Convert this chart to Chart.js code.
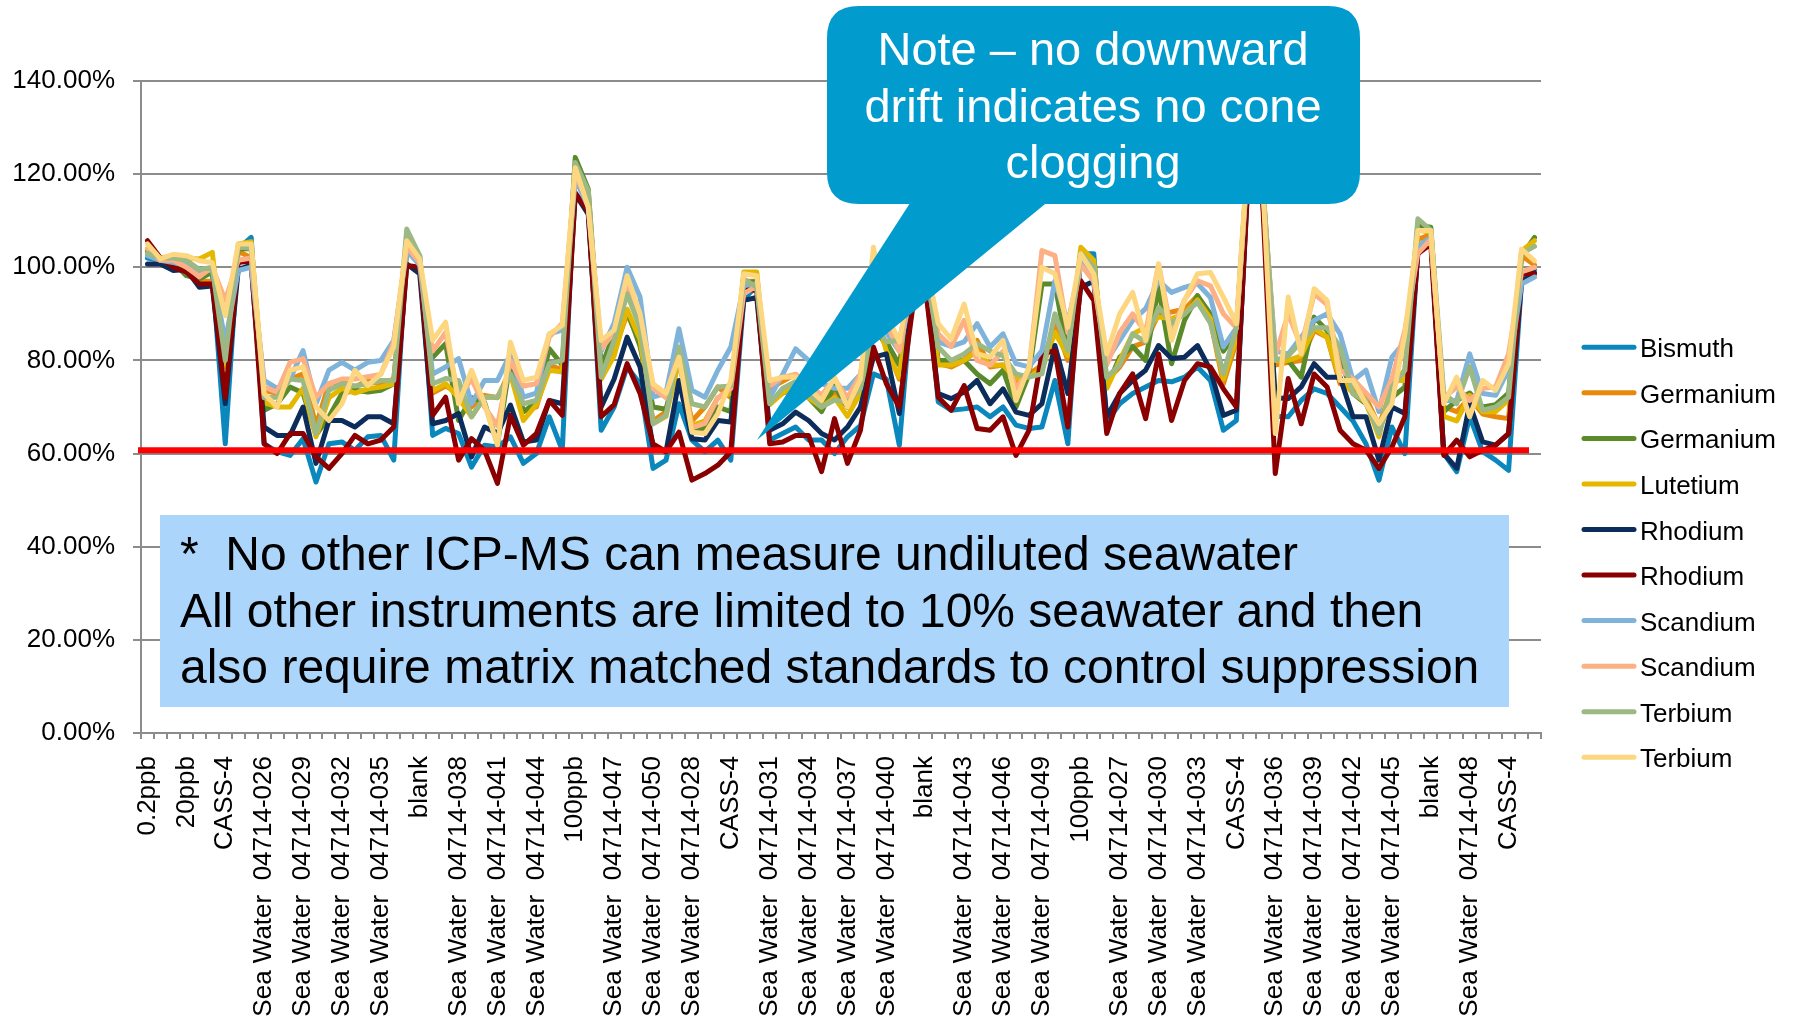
<!DOCTYPE html>
<html>
<head>
<meta charset="utf-8">
<title>Internal standard recovery – undiluted seawater run</title>
<script src="https://cdn.jsdelivr.net/npm/chart.js@4.4.1/dist/chart.umd.min.js"></script>
<style>
  html, body { margin: 0; padding: 0; background: #ffffff; }
  #wrap { position: relative; width: 1795px; height: 1025px; }
  canvas { display: block; }
</style>
</head>
<body>
<div id="wrap"><canvas id="chart" width="1795" height="1025"></canvas></div>
<script>
// ---- run sequence (x categories) ----
const sw = n => 'Sea Water  04714-0' + n;
const categories = [
  '0.2ppb', '1ppb', '5ppb', '20ppb', '50ppb', '100ppb', 'CASS-4', '100ppb', 'blank',
  sw('26'), sw('27'), sw('28'), sw('29'), sw('30'), sw('31'), sw('32'), sw('33'), sw('34'), sw('35'),
  'CASS-4', '100ppb', 'blank',
  sw('36'), sw('37'), sw('38'), sw('39'), sw('40'), sw('41'), sw('42'), sw('43'), sw('44'), sw('45'),
  'CASS-4', '100ppb', 'blank',
  sw('46'), sw('47'), sw('48'), sw('49'), sw('50'),
  sw('26'), sw('27'), sw('28'), sw('29'), sw('30'),
  'CASS-4', '100ppb', 'blank',
  sw('31'), sw('32'), sw('33'), sw('34'), sw('35'), sw('36'), sw('37'), sw('38'), sw('39'), sw('40'),
  'CASS-4', '100ppb', 'blank',
  sw('41'), sw('42'), sw('43'), sw('44'), sw('45'), sw('46'), sw('47'), sw('48'), sw('49'), sw('50'),
  'CASS-4', '100ppb', 'blank',
  sw('26'), sw('27'), sw('28'), sw('29'), sw('30'), sw('31'), sw('32'), sw('33'), sw('34'), sw('35'),
  'CASS-4', '100ppb', 'blank',
  sw('36'), sw('37'), sw('38'), sw('39'), sw('40'), sw('41'), sw('42'), sw('43'), sw('44'), sw('45'),
  'CASS-4', '100ppb', 'blank',
  sw('46'), sw('47'), sw('48'), sw('49'), sw('50'),
  'CASS-4', '100ppb', 'blank'
];

// ---- internal standard recoveries, % ----
const bismuth = [
  102,101.5,100.5,100,98.5,99,62.1,104,106.4,62.1,60.4,59.6,63.2,53.9,62.1,62.5,60.7,63.6,63.9,58.6,
  104,102.5,63.9,65.4,64.3,57.1,61.8,61.4,63.6,57.9,60,67.9,60.7,121,114,65,70,78.6,75,56.8,
  58.6,70.7,62.9,60.4,62.9,58.6,93.2,96,62.9,64.3,65.7,62.9,62.9,60,63.6,66,77.1,76,61.8,95,
  101,71.1,69.3,69.6,70,67.9,70,66.1,65.4,65.7,75.7,62.1,102.9,102.9,66.8,70.7,72.9,74.3,75.7,75.4,
  76.4,78.6,75.7,65,67.1,128,118,68,67.9,71.4,73.9,72.9,70,67,62.1,54.3,65.7,60,104,107,
  60,56.1,68,60.4,58.6,56.4,97,99.5
];
const germanium1 = [
  103,101,101,100,97,97,79,103.5,102,73.5,73,76,77.1,66,75,75.7,74.3,75.7,75,76,
  104,101,73,74.5,73,70,72.5,72,78,69,70,79,78,121.5,115,76,82,90,84,67,
  69,80,67,70,74.3,72,97,97,74,75.5,77,74,71,73,70,75,88,83,76,97,
  100,79.3,78.6,80,84.3,78.6,79,75,77,79,88,80,103,99,75.7,78.6,82.9,84,90,90.4,
  91,93.9,88.6,75,84,127,118,79,79.6,80,86.4,85,75,74,72,66,74,78,106,107,
  70,69,72,68.5,67.9,67.5,102.5,100.5
];
const germanium2 = [
  103.5,102,101,98.2,97.5,99,80,104,104,69.3,70.7,74.3,73,64,67.9,72.9,73.6,73.2,73.6,75,
  106,101,80.7,83.6,67.1,72,71,62,80,69,71,82.5,79,123.6,116.8,78.6,85.7,90.7,83,70,
  69.5,80.5,65,65.5,70,69,96.5,97,71,73,74,72,69,74.5,70,73,86,84,79,97,
  101,80,80,80,77.1,75,77.9,70,77,96.4,96.4,81.4,103,99,74.3,80.7,83,80,95.7,79.3,
  88.6,93.9,90,82,86,127,118,80,80,76.4,89.3,86.4,80,72.9,70.7,65,72,74.3,109,108.6,
  69,71.4,73,70,70.5,73,102.5,106.4
];
const lutetium = [
  104,102,102.5,102,101.8,103.2,78.6,105,105.5,71,70,70,74,63.6,72,74,73,73.9,74.3,75,
  105,102,73.5,75,72,67.9,72.1,72.1,77,67.1,70.5,77.9,77.5,122,116,76,81,91,84.5,66.4,
  68,80,66,67,72,73,99,99,70.5,73,74.5,72,70,72,68,73,92,82,76.4,98,
  102,79,79,80,82,79,79,76,76.5,78,86,81,104.3,101.5,74,80,85.7,87.1,89.3,89,
  90,93,89,76,85,128,119,80,80,81,87,85,76,73,71,63.6,75.7,75.7,108,107.5,
  68,67,72.5,69,69,71.5,103.5,105.7
];
const rhodium1 = [
  100.7,100.7,99.3,99.5,95.7,96,70.7,99.5,100.5,65.7,63.9,63.9,70,57.9,67.1,67.1,65.7,67.9,67.9,66.4,
  100.7,98.6,66.4,67.1,68.6,59.3,65.7,64.3,70.4,62.5,62.9,71.4,70.7,115.7,111.4,70,76,85,78.6,61.4,
  60.4,75.7,63.2,62.9,67.1,66.8,92.9,93.5,65,66.4,68.9,67.1,64.3,62.9,65.7,70,80.7,81.4,68.6,94,
  97,72.9,71.8,73.2,75.7,70.7,73.9,68.9,68.2,70.7,83.2,72.9,95.7,97,67.9,72.9,75.7,77.9,83.2,80.4,
  80.7,83.2,77.9,68.2,69.3,125,116,72,71.8,74.3,79.3,76.4,76.4,67.9,67.9,58.6,70,68.6,103.2,106.4,
  60,56.8,70.7,62.5,61.8,64.3,96.8,98.9
];
const rhodium2 = [
  105.7,102,100,99,96.4,96.4,72.1,101,101.4,62.1,60,64.3,64.3,59.3,56.8,60,63.9,62.1,62.9,65.7,
  100.4,100,68.2,72.1,58.6,63.2,60.7,53.6,68.2,61.8,64.3,71.4,68.2,116,112,67.9,70.5,79.3,72.9,62.1,
  60.4,64.6,54.3,55.7,57.5,60.4,95.4,95,62.1,62.5,63.9,63.9,56.1,67.5,57.9,65,82.9,75,70,90.7,
  96,72.1,69.3,74.6,65.4,65,67.9,59.6,65,81.4,82.1,65.7,97.1,92.9,64.3,72.9,77.1,67.5,81.4,67.1,
  75.7,79.3,78.6,73.9,70,124,116,55.7,76.1,66.4,77.1,74.3,65,62.1,60.7,56.8,61.4,67.9,102.9,105,
  59.6,62.9,59.3,60.7,61.8,64.3,98.6,98.6
];
const scandium1 = [
  102.5,101.5,101,100.5,99,99.5,84,99.3,100,75.7,74,76,82.1,70.7,77.9,79.6,77.9,79.6,80,84.3,
  103.6,100.5,77.1,78.6,80.4,70.7,75.7,75.7,81.4,72.1,73,85.7,86.5,119,113,82,88,100,93.6,72.1,
  73,86.8,73.6,72.1,77.9,82.9,96,96.5,72,77,82.5,80,75,74,74,77,90,86,82,96,
  100,84,83,84,87.9,82.9,85.7,79.3,78.6,82.1,97.1,88,101,97,80,84.3,88.6,91.1,97.1,94.6,
  95.7,96.5,93.5,82.9,87,127,118,82,81.4,85,88.6,90,85.7,75.7,77.9,69,80.7,84,104.5,106.4,
  71.4,71.4,81.4,72.9,72.5,78,96.4,97.9
];
const scandium2 = [
  104,101.5,101.5,100,98,100,92.9,101.5,102,74.3,73.2,79.6,80.4,72.1,75,76,76,76.5,77,84,
  104.5,101,82,86,72,76,70,66,80,74.5,75,85,88,120,114,82.5,86,96,89,74,
  72,82,65.5,66.5,72,74,94.3,96,74.5,76.4,77,75,72.5,76,72,77,96,88,82,97,
  101,85.7,83,88.6,80,79,82,74,78,103.6,102.5,86,100.5,97,79,86,90,86,100.7,86,
  93,97.1,96,90,87,128,119,81,90,83,94.3,92,78,76,73,70,76,86.5,103,106,
  72,74.3,71.4,74,74.3,81.4,99,100
];
const terbium1 = [
  103,102,102,101.5,99.5,100,80,104.5,104,72,72.1,76,75.7,64.3,73.6,75,74.5,75,75.7,75.7,
  108.2,102.5,75,76.1,75.7,67.9,72.1,72.1,77.1,70.7,71.4,79.3,80,122.5,116.5,76.4,84.3,94.3,87,66.4,
  68.2,82.9,70.7,70,74.3,74.5,97.5,95.7,70.7,74,75.5,73,70,71.5,71,74,88,84,84.3,97,
  101,82.9,80,81.4,83.6,82,81,77.1,76.4,77.1,90,82.1,103,100,76.4,79,85.7,84,91.4,88,
  90,92.5,88,77.1,87,128,119,80,81,84,87,87,82.9,72.9,71.4,64.3,74.3,77.9,110.4,108,
  72.9,70.7,78.6,69.3,70,72.1,103,104.5
];
const terbium2 = [
  105,101.8,102.8,102.5,101.4,101,89.6,105,105,72.9,70,77.9,78.6,70,67.1,70.7,77.9,74.6,77.1,82.9,
  105.7,101.8,84.3,88.2,70.7,77.9,70.7,61.8,83.9,75.7,76.4,85.7,87.5,121.4,112.9,84.3,86.5,98.2,90,75,
  72.9,80.7,64.6,64.3,68.6,75.7,98.6,98.2,75.7,76.4,76.5,74,71.4,76.4,70,76,104.3,90,84,99,
  102,87.9,84.6,92.1,81.4,80.7,84.3,71.4,78.6,100,98.6,87.1,102.9,98.6,81.4,90,94.6,84.3,100.7,84.3,
  92.9,98.6,98.9,93.6,87.9,129,120,64.3,93.6,81.4,95.4,92.9,75.7,75.7,70.7,66.4,70.7,85.7,107.9,107.9,
  70.7,76.4,67.9,75.7,73.6,79.3,103.9,101.4
];

const seriesNames = ['Bismuth', 'Germanium', 'Germanium', 'Lutetium', 'Rhodium', 'Rhodium',
                     'Scandium', 'Scandium', 'Terbium', 'Terbium'];
const seriesData = [bismuth, germanium1, germanium2, lutetium, rhodium1, rhodium2,
                    scandium1, scandium2, terbium1, terbium2];
const seriesColors = ['#0a87bd', '#e8890c', '#5a8a2a', '#e5b800', '#0c2d5c', '#8a0000',
                      '#7fb3da', '#fcb083', '#9bb885', '#fdd680'];

// y axis range and the suppression limit drawn as a red rule
const yMin = 0, yMax = 140, yStep = 20;
const limitLine = 60.7;

const noteLines = ['Note \u2013 no downward', 'drift indicates no cone', 'clogging'];
const boxLines = [
  '*  No other ICP-MS can measure undiluted seawater',
  'All other instruments are limited to 10% seawater and then',
  'also require matrix matched standards to control suppression'
];

const FONT = '"Liberation Sans", Arial, Helvetica, sans-serif';

const datasets = seriesData.map((d, i) => ({
  label: seriesNames[i],
  data: d,
  borderColor: seriesColors[i],
  backgroundColor: seriesColors[i],
  borderWidth: 5,
  pointRadius: 0,
  tension: 0,
  fill: false,
  borderJoinStyle: 'round',
  borderCapStyle: 'round',
  order: seriesData.length - i   // later series drawn on top
}));

function roundRect(ctx, x, y, w, h, r) {
  ctx.beginPath();
  ctx.moveTo(x + r, y);
  ctx.lineTo(x + w - r, y);
  ctx.quadraticCurveTo(x + w, y, x + w, y + r);
  ctx.lineTo(x + w, y + h - r);
  ctx.quadraticCurveTo(x + w, y + h, x + w - r, y + h);
  ctx.lineTo(x + r, y + h);
  ctx.quadraticCurveTo(x, y + h, x, y + h - r);
  ctx.lineTo(x, y + r);
  ctx.quadraticCurveTo(x, y, x + r, y);
  ctx.closePath();
}

const overlay = {
  id: 'overlay',
  afterDatasetsDraw(chart) {
    const { ctx, chartArea, scales } = chart;
    const py = scales.y.getPixelForValue(limitLine);
    ctx.save();
    ctx.strokeStyle = '#ff0000';
    ctx.lineWidth = 6;
    ctx.beginPath();
    ctx.moveTo(chartArea.left - 3, py);
    ctx.lineTo(chartArea.right - 12, py);
    ctx.stroke();
    ctx.restore();
  },
  afterDraw(chart) {
    const ctx = chart.ctx;
    ctx.save();

    // callout bubble
    ctx.fillStyle = '#019bcd';
    roundRect(ctx, 827, 6, 533, 198, 32);
    ctx.fill();
    ctx.beginPath();
    ctx.moveTo(912, 200);
    ctx.lineTo(1050, 200);
    ctx.lineTo(757, 440);
    ctx.closePath();
    ctx.fill();
    ctx.fillStyle = '#ffffff';
    ctx.font = '47px ' + FONT;
    ctx.textAlign = 'center';
    ctx.textBaseline = 'alphabetic';
    noteLines.forEach((t, i) => ctx.fillText(t, 1093, 65 + i * 56.7));

    // note box
    ctx.fillStyle = '#abd5fb';
    ctx.fillRect(160, 515, 1349, 192);
    ctx.fillStyle = '#000000';
    ctx.font = '48px ' + FONT;
    ctx.textAlign = 'left';
    boxLines.forEach((t, i) => ctx.fillText(t, 180, 570 + i * 56.7));

    // legend
    ctx.font = '26px ' + FONT;
    ctx.lineCap = 'round';
    ctx.lineWidth = 5;
    chart.data.datasets.forEach((ds, i) => {
      const ly = 347.3 + i * 45.55;
      ctx.strokeStyle = ds.borderColor;
      ctx.beginPath();
      ctx.moveTo(1584, ly);
      ctx.lineTo(1634, ly);
      ctx.stroke();
      ctx.fillStyle = '#000000';
      ctx.fillText(ds.label, 1640, ly + 10);
    });
    ctx.restore();
  }
};

new Chart(document.getElementById('chart'), {
  type: 'line',
  data: { labels: categories, datasets },
  options: {
    responsive: false,
    animation: false,
    devicePixelRatio: 1,
    layout: { padding: { top: 81, right: 254, bottom: 0, left: 0 } },
    plugins: { legend: { display: false }, tooltip: { enabled: false } },
    scales: {
      x: {
        type: 'category',
        offset: true,
        grid: { display: true, drawOnChartArea: false, drawTicks: true, tickLength: 6,
                offset: true, color: '#8c8c8c', lineWidth: 2 },
        border: { display: true, color: '#8c8c8c', width: 2 },
        ticks: {
          autoSkip: false, maxRotation: 90, minRotation: 90, padding: 17,
          color: '#000000', font: { family: FONT, size: 26 },
          callback(v, i) { return i % 3 === 0 ? this.getLabelForValue(v) : ''; }
        },
        afterFit(s) { s.height = 292; }
      },
      y: {
        min: yMin, max: yMax,
        grid: { color: '#8c8c8c', lineWidth: 2, tickLength: 8 },
        border: { display: true, color: '#8c8c8c', width: 2 },
        ticks: {
          stepSize: yStep, padding: 18, color: '#000000',
          font: { family: FONT, size: 26 },
          callback: v => v.toFixed(2) + '%'
        },
        afterFit(s) { s.width = 141; }
      }
    }
  },
  plugins: [overlay]
});
</script>
</body>
</html>
